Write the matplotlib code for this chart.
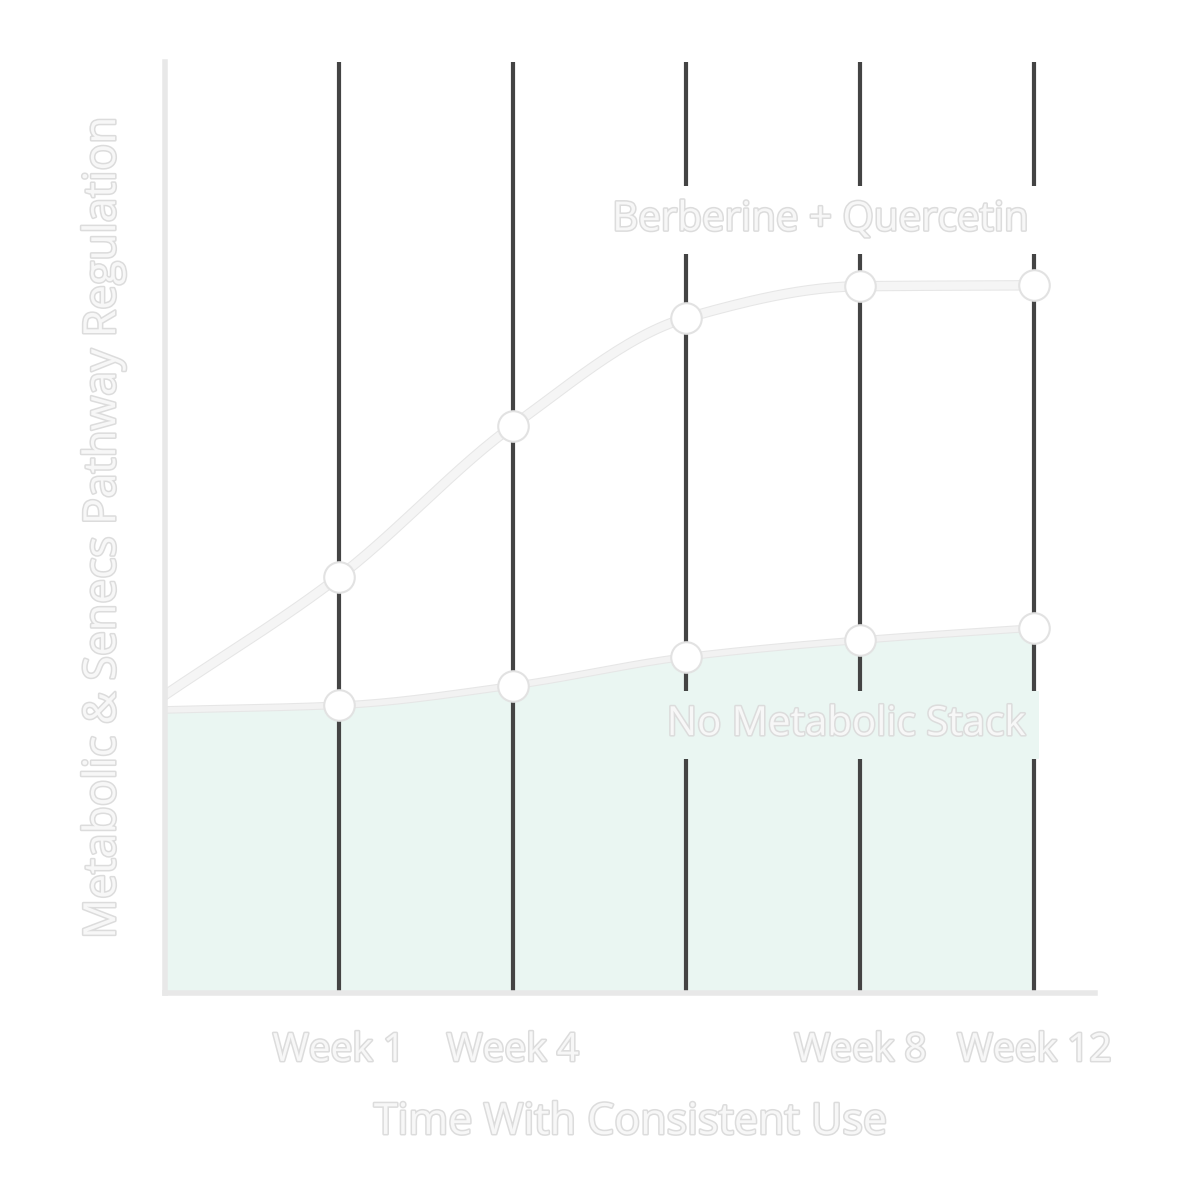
import numpy as np
import matplotlib.pyplot as plt
import matplotlib.patheffects as pe

weeks = [0, 1, 2, 3, 4, 5]
tick_pos = [1, 2, 4, 5]
tick_labels = ['Week 1', 'Week 4', 'Week 8', 'Week 12']
stack = [32.0, 44.7, 60.9, 72.5, 75.9, 76.0]
no_stack = [30.4, 30.9, 33.0, 36.1, 37.9, 39.2]


def smooth(x, y, n=30):
    # monotone cubic hermite between the points
    x = np.asarray(x, float); y = np.asarray(y, float)
    d = np.diff(y) / np.diff(x)
    m = np.zeros_like(y)
    m[0], m[-1] = d[0], d[-1]
    for i in range(1, len(y) - 1):
        m[i] = 0 if d[i - 1] * d[i] <= 0 else 2 / (1 / d[i - 1] + 1 / d[i])
    xs, ys = [], []
    for i in range(len(x) - 1):
        h = x[i + 1] - x[i]
        t = np.linspace(0, 1, n, endpoint=False)
        h00 = 2*t**3 - 3*t**2 + 1; h10 = t**3 - 2*t**2 + t
        h01 = -2*t**3 + 3*t**2; h11 = t**3 - t**2
        xs.append(x[i] + t*h)
        ys.append(h00*y[i] + h10*h*m[i] + h01*y[i+1] + h11*h*m[i+1])
    xs.append([x[-1]]); ys.append([y[-1]])
    return np.concatenate(xs), np.concatenate(ys)


plt.rcParams['font.family'] = ['Open Sans', 'DejaVu Sans']
outline = [pe.withStroke(linewidth=2.2, foreground='#dcdcdc')]
txt = '#f7f7f7'
fill = '#eaf6f2'

fig = plt.figure(figsize=(12, 12), dpi=100)
ax = fig.add_axes([0.1375, 0.1725, 0.775, 0.776])
ax.set_xlim(0, 5.35)
ax.set_ylim(0, 100)

for x in weeks[1:]:
    ax.axvline(x, color='#444444', lw=3, zorder=1)

xs, ys = smooth(weeks, no_stack)
ax.fill_between(xs, 0, ys, color=fill, zorder=0)
ax.plot(xs, ys, color='#f2f2f2', lw=4, zorder=2,
        path_effects=[pe.withStroke(linewidth=5.5, foreground='#e6e6e6')])
xs2, ys2 = smooth(weeks, stack)
ax.plot(xs2, ys2, color='#f5f5f5', lw=6, zorder=2,
        path_effects=[pe.withStroke(linewidth=7.5, foreground='#e6e6e6')])
ax.plot(weeks[1:], stack[1:], 'o', ms=22, mfc='white', mec='#e2e2e2', mew=1.5, zorder=3)
ax.plot(weeks[1:], no_stack[1:], 'o', ms=22, mfc='white', mec='#e2e2e2', mew=1.5, zorder=3)

ax.text(4.97, 83.0, 'Berberine + Quercetin', ha='right', va='center', fontsize=29,
        color=txt, bbox=dict(facecolor='white', edgecolor='none', pad=10),
        zorder=4, path_effects=outline)
ax.text(4.95, 28.8, 'No Metabolic Stack', ha='right', va='center', fontsize=29,
        color=txt, bbox=dict(facecolor=fill, edgecolor='none', pad=10),
        zorder=1.5, path_effects=outline)

for s in ['top', 'right']:
    ax.spines[s].set_visible(False)
for s in ['left', 'bottom']:
    ax.spines[s].set_color('#e8e8e8')
    ax.spines[s].set_linewidth(4)
ax.set_yticks([])
ax.set_xticks(tick_pos)
ax.set_xticklabels(tick_labels)
ax.tick_params(axis='x', length=0, pad=28, labelsize=28, labelcolor=txt)
for lab in ax.get_xticklabels():
    lab.set_path_effects(outline)
ax.set_xlabel('Time With Consistent Use', fontsize=31, color=txt, labelpad=22,
              path_effects=outline)
ax.set_ylabel('Metabolic & Senecs Pathway Regulation', fontsize=32, color=txt,
              labelpad=28, path_effects=outline)

plt.savefig('out.png', dpi=100)
